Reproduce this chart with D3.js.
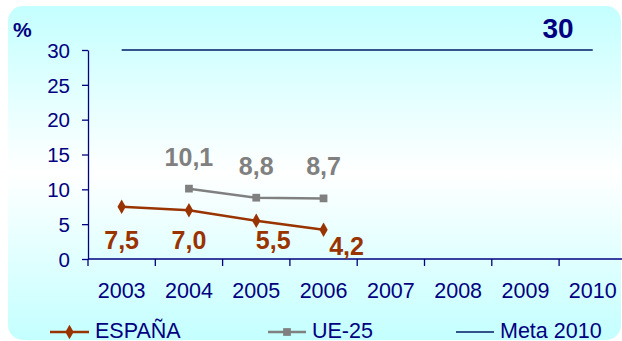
<!DOCTYPE html>
<html>
<head>
<meta charset="utf-8">
<script src="https://cdn.jsdelivr.net/npm/d3@7"></script>
<style>
  html, body { margin: 0; padding: 0; background: #ffffff; }
  svg { display: block; font-family: "Liberation Sans", Arial, sans-serif; }
</style>
</head>
<body>
<svg id="chart" width="622" height="341"></svg>
<script>
// Years on the horizontal axis
const years = ["2003", "2004", "2005", "2006", "2007", "2008", "2009", "2010"];
// Early school leaving rate (%)
const espana = [7.5, 7.0, 5.5, 4.2];
const espanaYears = ["2003", "2004", "2005", "2006"];
const ue25 = [10.1, 8.8, 8.7];
const ue25Years = ["2004", "2005", "2006"];
const meta = 30;
const metaYears = ["2003", "2010"];
const yTicks = [0, 5, 10, 15, 20, 25, 30];
const fmt = v => d3.format(".1f")(v).replace(".", ",");

// Label horizontal nudges
const espanaLabelDx = [0, 0, 17, 23];
const ue25LabelDx = [0, 0, 0];

const navy = "#000080";
const brown = "#993300";
const grey = "#808080";

const svg = d3.select("#chart");

// Panel background
const defs = svg.append("defs");
const grad = defs.append("linearGradient").attr("id", "bg").attr("x1", 0).attr("y1", 0).attr("x2", 0).attr("y2", 1);
grad.append("stop").attr("offset", "0%").attr("stop-color", "#c4ffff");
grad.append("stop").attr("offset", "50%").attr("stop-color", "#ffffff");
grad.append("stop").attr("offset", "100%").attr("stop-color", "#c4ffff");
svg.append("rect").attr("x", 8).attr("y", 6).attr("width", 613).attr("height", 334)
  .attr("rx", 15).attr("fill", "url(#bg)");

const x = d3.scaleBand().domain(years).range([88, 88 + 8 * 67.3]);
const y = d3.scaleLinear().domain([0, 30]).range([259, 50]);
const cx = d => x(d) + x.bandwidth() / 2;

// Y axis
const yAxis = svg.append("g").attr("transform", "translate(88,0)")
  .call(d3.axisLeft(y).tickValues(yTicks).tickSize(6).tickPadding(12).tickSizeOuter(0));
yAxis.select(".domain").attr("stroke", navy).attr("stroke-width", 1.3);
yAxis.selectAll(".tick line").attr("stroke", navy).attr("stroke-width", 1.3);
yAxis.selectAll(".tick text").attr("fill", navy).attr("font-size", 20.5)
  .attr("font-family", "Liberation Sans, Arial, sans-serif").attr("dy", "0.35em");

// X axis: line, boundary ticks, centred labels
const xg = svg.append("g");
xg.append("line").attr("x1", 88).attr("x2", 622).attr("y1", y(0)).attr("y2", y(0))
  .attr("stroke", navy).attr("stroke-width", 1.3);
xg.selectAll(".bt").data(years).join("line")
  .attr("x1", d => x(d)).attr("x2", d => x(d))
  .attr("y1", y(0)).attr("y2", y(0) + 7)
  .attr("stroke", navy).attr("stroke-width", 1.3);
xg.selectAll(".xl").data(years).join("text")
  .attr("x", d => cx(d)).attr("y", 298)
  .attr("text-anchor", "middle").attr("font-size", 21.5).attr("fill", navy)
  .text(d => d);

// Target line
svg.append("line")
  .attr("x1", cx(metaYears[0])).attr("x2", cx(metaYears[1]))
  .attr("y1", y(meta)).attr("y2", y(meta))
  .attr("stroke", "#001a66").attr("stroke-width", 1.5);
svg.append("text").attr("x", 558).attr("y", 38).attr("text-anchor", "middle")
  .attr("font-size", 28).attr("font-weight", "bold").attr("fill", navy).text(meta);

svg.append("text").attr("x", 13).attr("y", 37).attr("font-size", 21)
  .attr("font-weight", "bold").attr("fill", navy).text("%");

const line = d3.line().x(d => cx(d[0])).y(d => y(d[1]));
const diamond = d3.symbol().type(d3.symbolDiamond).size(60);
const square = d3.symbol().type(d3.symbolSquare).size(60);

// UE-25 series
const ueData = ue25Years.map((yr, i) => [yr, ue25[i]]);
svg.append("path").datum(ueData).attr("d", line)
  .attr("fill", "none").attr("stroke", grey).attr("stroke-width", 2.5);
svg.selectAll(".uem").data(ueData).join("path")
  .attr("transform", d => `translate(${cx(d[0])},${y(d[1])})`)
  .attr("d", square).attr("fill", grey);
svg.selectAll(".uel").data(ueData).join("text")
  .attr("x", (d, i) => cx(d[0]) + ue25LabelDx[i])
  .attr("y", (d, i) => i === 0 ? 166 : 175)
  .attr("text-anchor", "middle").attr("font-size", 25).attr("font-weight", "bold")
  .attr("fill", grey).text(d => fmt(d[1]));

// España series
const esData = espanaYears.map((yr, i) => [yr, espana[i]]);
svg.append("path").datum(esData).attr("d", line)
  .attr("fill", "none").attr("stroke", brown).attr("stroke-width", 2.5);
svg.selectAll(".esm").data(esData).join("path")
  .attr("transform", d => `translate(${cx(d[0])},${y(d[1])})`)
  .attr("d", diamond).attr("fill", brown);
svg.selectAll(".esl").data(esData).join("text")
  .attr("x", (d, i) => cx(d[0]) + espanaLabelDx[i])
  .attr("y", (d, i) => i === 3 ? 255 : 249)
  .attr("text-anchor", "middle").attr("font-size", 25).attr("font-weight", "bold")
  .attr("fill", brown).text(d => fmt(d[1]));

// Legend
const legend = svg.append("g");
const items = [
  { name: "ESPAÑA", color: brown, x0: 50, x1: 89, tx: 95, sym: diamond, w: 2.5 },
  { name: "UE-25", color: grey, x0: 268, x1: 306, tx: 312, sym: square, w: 2.5 },
  { name: "Meta 2010", color: "#001a66", x0: 456, x1: 494, tx: 500, sym: null, w: 1.5 }
];
items.forEach(it => {
  legend.append("line").attr("x1", it.x0).attr("x2", it.x1).attr("y1", 332).attr("y2", 332)
    .attr("stroke", it.color).attr("stroke-width", it.w);
  if (it.sym) legend.append("path").attr("transform", `translate(${(it.x0 + it.x1) / 2},332)`)
    .attr("d", it.sym).attr("fill", it.color);
  legend.append("text").attr("x", it.tx).attr("y", 337.5).attr("font-size", 21.5)
    .attr("fill", navy).text(it.name);
});
</script>
</body>
</html>
